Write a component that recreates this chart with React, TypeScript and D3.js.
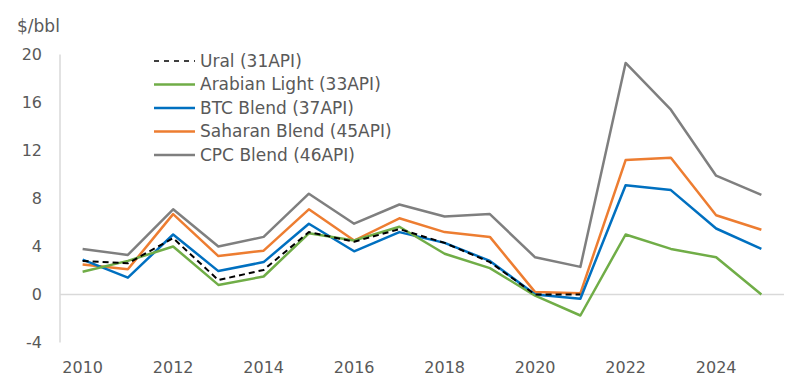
import React from 'react';
import * as d3 from 'd3';

const years = [2010, 2011, 2012, 2013, 2014, 2015, 2016, 2017, 2018, 2019, 2020, 2021, 2022, 2023, 2024, 2025];
const ural = [2.8, 2.6, 4.7, 1.2, 2.05, 5.2, 4.4, 5.45, 4.3, 2.7, 0.0, 0.0, null, null, null, null];
const arabianLight = [1.9, 2.8, 4.0, 0.8, 1.5, 5.1, 4.5, 5.65, 3.4, 2.2, -0.1, -1.75, 5.0, 3.8, 3.1, 0.0];
const btcBlend = [2.9, 1.4, 5.0, 1.95, 2.7, 5.9, 3.6, 5.2, 4.3, 2.8, 0.0, -0.35, 9.1, 8.7, 5.5, 3.8];
const saharanBlend = [2.5, 2.1, 6.7, 3.2, 3.65, 7.1, 4.5, 6.35, 5.2, 4.8, 0.2, 0.1, 11.2, 11.4, 6.6, 5.4];
const cpcBlend = [3.8, 3.3, 7.1, 4.0, 4.8, 8.4, 5.9, 7.5, 6.5, 6.7, 3.1, 2.3, 19.3, 15.4, 9.9, 8.3];
const yTicks = [-4, 0, 4, 8, 12, 16, 20];
const xTickYears = [2010, 2012, 2014, 2016, 2018, 2020, 2022, 2024];

const series = [
    {name: 'Ural (31API)', values: ural, color: '#000000', dash: '6,4'},
    {name: 'Arabian Light (33API)', values: arabianLight, color: '#70AD47', dash: null},
    {name: 'BTC Blend (37API)', values: btcBlend, color: '#0070C0', dash: null},
    {name: 'Saharan Blend (45API)', values: saharanBlend, color: '#ED7D31', dash: null},
    {name: 'CPC Blend (46API)', values: cpcBlend, color: '#7F7F7F', dash: null}
];

export default function App() {
    const width = 799, height = 390;
    const left = 60, right = 784, top = 54.5, bottom = 342.5;

    const x = d3.scaleBand<number>().domain(years).range([left, right]);
    const cx = (yr: number) => (x(yr) as number) + x.bandwidth() / 2;
    const y = d3.scaleLinear().domain([-4, 20]).range([bottom, top]);

    const line = d3.line<number | null>()
        .defined(d => d !== null)
        .x((d, i) => cx(years[i]))
        .y(d => y(d as number));

    const font = 'DejaVu Sans, Verdana, sans-serif';
    const textColor = '#595959';

    return (
        <svg width={width} height={height} style={{position: 'absolute', left: 0, top: 0}} fontFamily={font}>
            <rect width={width} height={height} fill="#fff"/>
            <text x={17} y={26} dy="0.35em" fontSize={17} fill={textColor}>$/bbl</text>
            <line x1={left} x2={left} y1={top} y2={bottom} stroke="#D9D9D9" strokeWidth={1.5}/>
            <line x1={left} x2={right} y1={y(0)} y2={y(0)} stroke="#D9D9D9" strokeWidth={1.5}/>
            {yTicks.map(t => (
                <text key={t} x={42} y={y(t)} dy="0.35em" textAnchor="end" fontSize={16} fill={textColor}>{t}</text>
            ))}
            {xTickYears.map(t => (
                <text key={t} x={cx(t)} y={367} dy="0.35em" textAnchor="middle" fontSize={16} fill={textColor}>{t}</text>
            ))}
            {series.slice().reverse().map(s => (
                <path key={s.name} d={line(s.values) || ''} fill="none" stroke={s.color}
                      strokeWidth={s.dash ? 2 : 2.5} strokeDasharray={s.dash || undefined} strokeLinejoin="round"/>
            ))}
            {series.map((s, i) => {
                const ly = 61 + i * 23.5;
                return (
                    <g key={s.name}>
                        <line x1={154} x2={195} y1={ly} y2={ly} stroke={s.color}
                              strokeWidth={s.dash ? 1.5 : 2.5} strokeDasharray={s.dash ? '5,5' : undefined}/>
                        <text x={200} y={ly} dy="0.35em" fontSize={17} fill={textColor}>{s.name}</text>
                    </g>
                );
            })}
        </svg>
    );
}
